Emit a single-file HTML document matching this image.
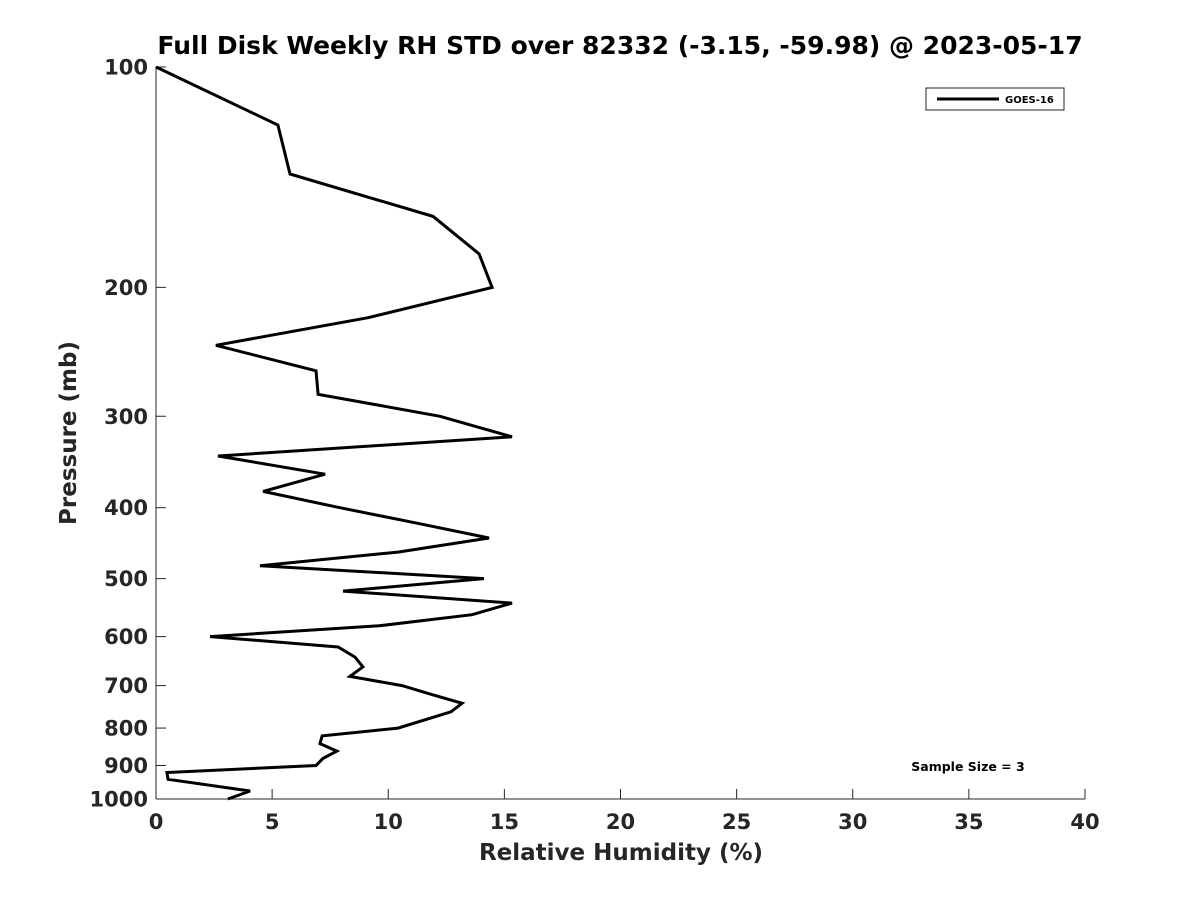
<!DOCTYPE html>
<html><head><meta charset="utf-8"><style>
body{margin:0;background:#fff;}
svg text{font-family:"DejaVu Sans","Liberation Sans",sans-serif;font-weight:bold;fill:#262626;}
</style></head><body>
<svg id="chart" width="1200" height="900" viewBox="0 0 1200 900" xmlns="http://www.w3.org/2000/svg">
<rect width="1200" height="900" fill="#fff"/>
<text x="620" y="54" font-size="25" text-anchor="middle" fill="#000" style="fill:#000">Full Disk Weekly RH STD over 82332 (-3.15, -59.98) @ 2023-05-17</text>
<g id="axes"></g>
<g id="series"></g>
<text x="621" y="860" font-size="23" text-anchor="middle">Relative Humidity (%)</text>
<text transform="translate(76,433) rotate(-90)" font-size="23" text-anchor="middle">Pressure (mb)</text>
<g>
<rect x="926" y="88" width="138" height="22" fill="#fff" stroke="#262626" stroke-width="1"/>
<line x1="937" y1="99" x2="999" y2="99" stroke="#000" stroke-width="3"/>
<text x="1005" y="103" font-size="10" style="fill:#000">GOES-16</text>
</g>
<text x="968" y="771" font-size="12.5" text-anchor="middle" style="fill:#000">Sample Size = 3</text>
</svg>
<script>
const pressures=[100,120,140,160,180,200,220,240,260,280,300,320,340,360,380,400,420,440,460,480,500,520,540,560,580,600,620,640,660,680,700,720,740,760,800,820,840,860,880,900,920,940,975,1000];
const rhStd=[0,5.25,5.77,11.93,13.91,14.47,9.13,2.58,6.89,6.98,12.23,15.33,2.67,7.28,4.61,7.92,11.24,14.34,10.42,4.48,14.12,8.05,15.33,13.61,9.60,2.33,7.84,8.57,8.91,8.35,10.59,11.88,13.18,12.70,10.42,7.15,7.06,7.79,7.19,6.89,0.47,0.52,4.05,3.10];
const xTicks=[0,5,10,15,20,25,30,35,40];
const yTicks=[100,200,300,400,500,600,700,800,900,1000];
const NS='http://www.w3.org/2000/svg';
const X0=156,X1=1085,Y0=67,Y1=799;
function xs(v){return X0+(v-0)/(40-0)*(X1-X0);}
function ys(p){return Y0+(Math.log10(p)-2)/(1)*(Y1-Y0);}
const axes=document.getElementById('axes');
function mk(tag,attrs,parent){const e=document.createElementNS(NS,tag);for(const k in attrs)e.setAttribute(k,attrs[k]);parent.appendChild(e);return e;}
const xl=mk('line',{x1:X0,y1:Y1,x2:X1,y2:Y1,stroke:'#262626','stroke-width':1},axes);


const yl=mk('line',{x1:X0,y1:Y0,x2:X0,y2:Y1,stroke:'#262626','stroke-width':1},axes);


xTicks.forEach(t=>{
  const x=xs(t);
  const l=mk('line',{x1:x,y1:Y1,x2:x,y2:Y1-10,stroke:'#262626','stroke-width':1},axes);
  
  
  const tx=mk('text',{x:x,y:Y1+30,'font-size':21,'text-anchor':'middle'},axes);
  tx.textContent=t;
  
  
});
yTicks.forEach(t=>{
  const y=ys(t);
  const l=mk('line',{x1:X0,y1:y,x2:X0+10,y2:y,stroke:'#262626','stroke-width':1},axes);
  
  
  const tx=mk('text',{x:X0-8,y:y+7.5,'font-size':21,'text-anchor':'end'},axes);
  tx.textContent=t;
  
  
});
const pts=pressures.map((p,i)=>xs(rhStd[i]).toFixed(1)+','+ys(p).toFixed(1)).join(' ');
const line=mk('polyline',{points:pts,fill:'none',stroke:'#000','stroke-width':3,'stroke-linejoin':'miter'},document.getElementById('series'));


</script>
</body></html>
